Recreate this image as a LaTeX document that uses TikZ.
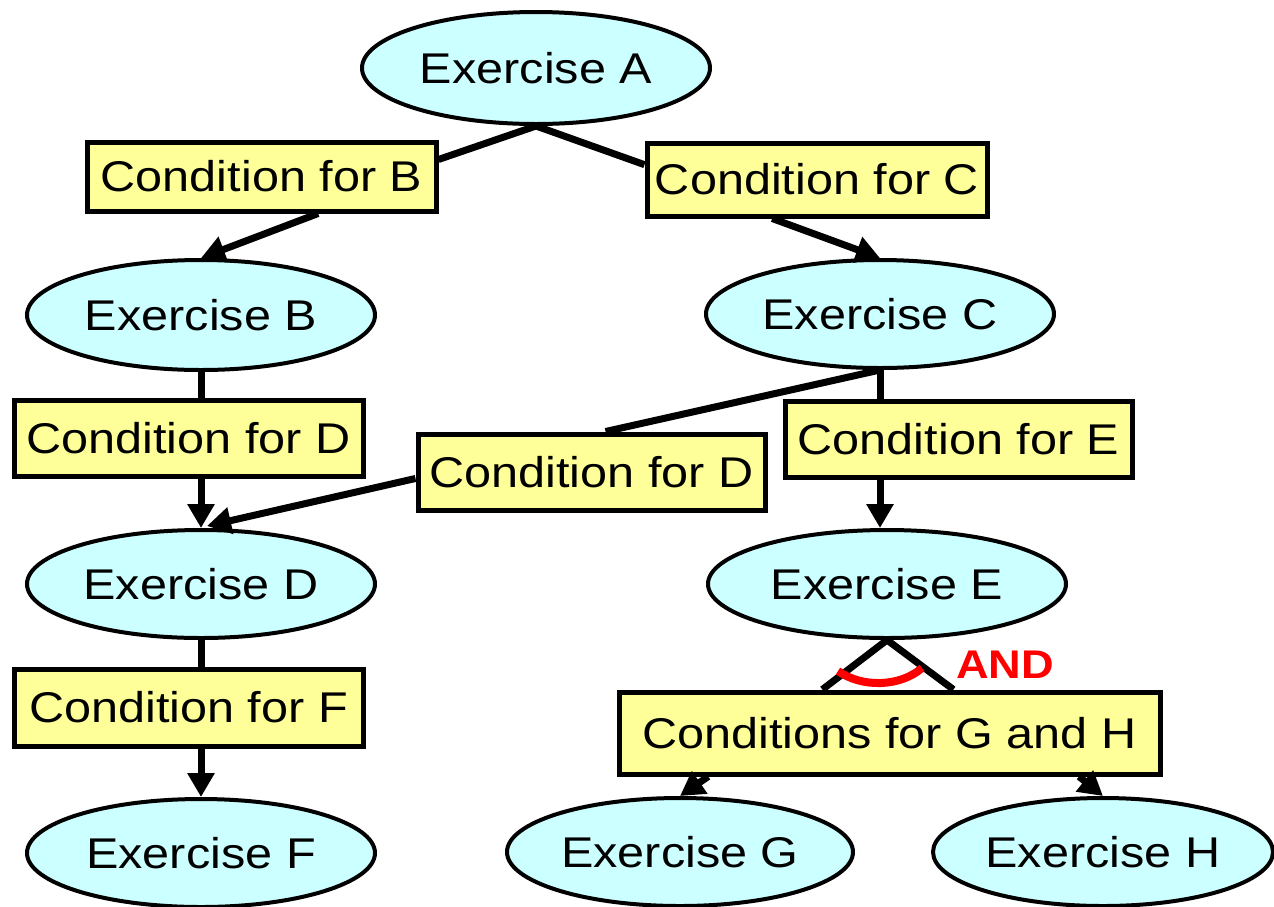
\documentclass[tikz,border=0pt]{standalone}
\usepackage{fontspec}
\setmainfont{Liberation Sans}[FakeStretch=1.13]
\usetikzlibrary{shapes.geometric,arrows.meta,calc}
\definecolor{exfill}{HTML}{CCFFFF}
\definecolor{condfill}{HTML}{FFFF99}
\begin{document}
\begin{tikzpicture}[x=0.5pt,y=-0.5pt,
  exercise/.style={ellipse,draw=black,line width=2pt,fill=exfill,inner sep=0pt,
    minimum width=174pt,minimum height=54pt,font=\fontsize{21.5pt}{25pt}\selectfont},
  cond/.style={rectangle,draw=black,line width=2.5pt,fill=condfill,inner sep=0pt,
    minimum width=174.5pt,minimum height=38pt,font=\fontsize{21.5pt}{25pt}\selectfont},
  link/.style={line width=3.5pt,black},
  flow/.style={link,-{Triangle[length=12pt,width=13pt]}}]
\useasboundingbox (0,0) rectangle (1274,906);
\fill[white] (0,0) rectangle (1274,906);

% exercises
\node[exercise,minimum height=56pt] (eA) at (536,68) {Exercise A};
\node[exercise,minimum height=55pt] (eB) at (201,315) {Exercise B};
\node[exercise] (eC) at (880,314) {Exercise C};
\node[exercise] (eD) at (201,584) {Exercise D};
\node[exercise,minimum width=179pt] (eE) at (887,584) {Exercise E};
\node[exercise] (eF) at (201,853) {Exercise F};
\node[exercise,minimum width=173pt] (eG) at (680,852) {Exercise G};
\node[exercise,minimum width=170pt] (eH) at (1103,852) {Exercise H};

% conditions
\node[cond,minimum height=34.5pt] (cB) at (261.5,176.5) {Condition for B};
\node[cond,minimum width=170pt,minimum height=36.5pt] (cC) at (817,179.5) {Condition for C};
\node[cond] (cD1) at (188.5,438) {Condition for D};
\node[cond,minimum width=173.5pt] (cD2) at (591.5,472) {Condition for D};
\node[cond,minimum width=173.5pt] (cE) at (958.5,439) {Condition for E};
\node[cond,minimum height=38.5pt] (cF) at (188.5,707.5) {Condition for F};
\node[cond,minimum width=270.5pt,minimum height=41pt] (cGH) at (889.5,733) {Conditions for G and H};

% A to its conditions
\draw[link] (eA.south) -- ($(cB.north east)!0.27!(cB.south east)$);
\draw[link] (eA.south) -- ($(cC.north west)!0.31!(cC.south west)$);
\draw[flow] ($(cB.south west)!0.66!(cB.south east)$) -- (eB.north);
\draw[flow] ($(cC.south west)!0.37!(cC.south east)$) -- (eC.north);

% left column
\draw[link] (eB.south) -- (eB.south |- cD1.north);
\draw[flow] (eD.north |- cD1.south) -- (eD.north);
\draw[link] (eD.south) -- (eD.south |- cF.north);
\draw[flow] (eF.north |- cF.south) -- (eF.north);

% from C
\draw[link] (eC.south) -- ($(cD2.north west)!0.54!(cD2.north east)$);
\draw[flow] ($(cD2.north west)!0.58!(cD2.south west)$) -- ($(eD.north)+(6,-2)$);
\draw[link] (eC.south) -- (eC.south |- cE.north);
\draw[flow] (eC.south |- cE.south) -- (eC.south |- eE.north);

% from E, joint condition
\draw[link] (eE.south) -- ($(cGH.north west)!0.377!(cGH.north east)$);
\draw[link] (eE.south) -- ($(cGH.north west)!0.617!(cGH.north east)$);
\draw[red,line width=4pt] (838,671) .. controls (862,688) and (900,687) .. (922,668);
\node[red,font=\fontsize{20pt}{23pt}\selectfont\bfseries] (and) at (1005,665) {AND};
\draw[flow] ($(cGH.south west)!0.168!(cGH.south east)$) -- (eG.north);
\draw[flow] ($(cGH.south west)!0.847!(cGH.south east)$) -- (eH.north);
\end{tikzpicture}
\end{document}
